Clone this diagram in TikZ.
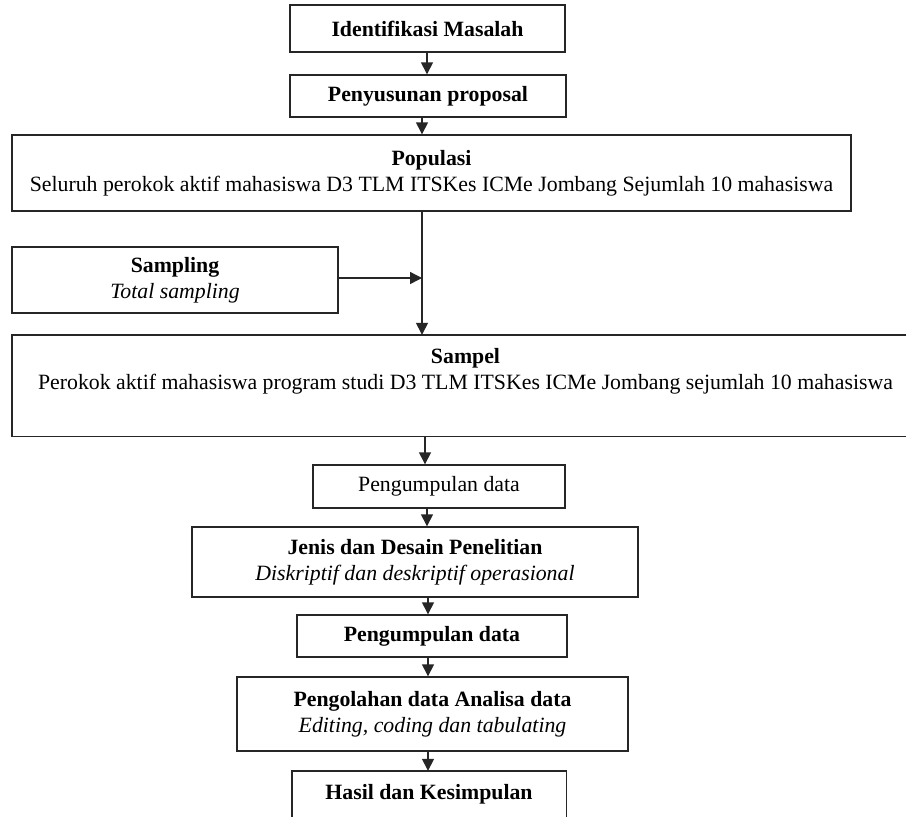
\documentclass[tikz,border=0pt]{standalone}
\usepackage{fontspec}
\setmainfont{Liberation Serif}
\usetikzlibrary{arrows.meta,calc}
\begin{document}
\begin{tikzpicture}[x=1pt,y=-1pt,
  font=\fontsize{21.8}{26}\selectfont,
  box/.style={draw=black!85,line width=1.4pt,rectangle,align=center,inner sep=0pt},
  openbox/.style={draw=none,rectangle,align=center,inner sep=0pt},
  edge/.style={draw=black!85,line width=1.4pt},
  arr/.style={edge,-{Triangle[length=12pt,width=12pt]}}]
\useasboundingbox (0,0) rectangle (907,817);
\fill[white] (0,0) rectangle (907,817);
% nodes
\node[box,minimum width=275pt,minimum height=47pt] (b1) at (427.5,28.5) {\textbf{Identifikasi Masalah}};
\node[box,minimum width=276pt,minimum height=42pt] (b2) at (428,96) {\textbf{Penyusunan proposal}};
\node[box,minimum width=839pt,minimum height=76pt] (pop) at (431.5,173) {\textbf{Populasi}\\Seluruh perokok aktif mahasiswa D3 TLM ITSKes ICMe Jombang Sejumlah 10 mahasiswa};
\node[box,minimum width=326pt,minimum height=66pt] (smp) at (175,280) {\textbf{Sampling}\\\textit{Total sampling}};
\node[openbox,minimum width=907pt,minimum height=101pt] (sam) at (465.5,385.5) {\textbf{Sampel}\\Perokok aktif mahasiswa program studi D3 TLM ITSKes ICMe Jombang sejumlah 10 mahasiswa\\\strut};
\node[box,minimum width=252pt,minimum height=43pt] (pg1) at (439,486.5) {Pengumpulan data};
\node[box,minimum width=446pt,minimum height=70pt] (jen) at (415,562) {\textbf{Jenis dan Desain Penelitian}\\\textit{Diskriptif dan deskriptif operasional}};
\node[box,minimum width=270pt,minimum height=42pt] (pg2) at (432,636) {\textbf{Pengumpulan data}};
\node[box,minimum width=391pt,minimum height=74pt] (olh) at (432.5,714) {\textbf{Pengolahan data Analisa data}\\\textit{Editing, coding dan tabulating}};
\node[openbox,minimum width=274pt,minimum height=46pt] (hsl) at (429,794) {\textbf{Hasil dan Kesimpulan}};
% open boxes (cut by the page edge)
\draw[edge] ($(sam.north east)+(-13,0)$) -- (sam.north west) -- (sam.south west) -- ($(sam.south east)+(-13,0)$);
\draw[edge] (hsl.south west) -- (hsl.north west) -- (hsl.north east) -- (hsl.south east);
% x positions of connectors
\coordinate (xa) at (427,0);
\coordinate (xb) at (422,0);
\coordinate (xc) at (425,0);
\coordinate (xd) at (428,0);
\coordinate (jn) at (422,278);
% connectors
\draw[arr] (b1.south -| xa) -- (b2.north -| xa);
\draw[arr] (b2.south -| xb) -- (pop.north -| xb);
\draw[arr] (pop.south -| xb) -- (sam.north -| xb);
\draw[arr] (smp.east |- jn) -- (jn);
\draw[arr] (sam.south -| xc) -- (pg1.north -| xc);
\draw[arr] (pg1.south -| xa) -- (jen.north -| xa);
\draw[arr] (jen.south -| xd) -- (pg2.north -| xd);
\draw[arr] (pg2.south -| xd) -- (olh.north -| xd);
\draw[arr] (olh.south -| xd) -- (hsl.north -| xd);
\end{tikzpicture}
\end{document}
